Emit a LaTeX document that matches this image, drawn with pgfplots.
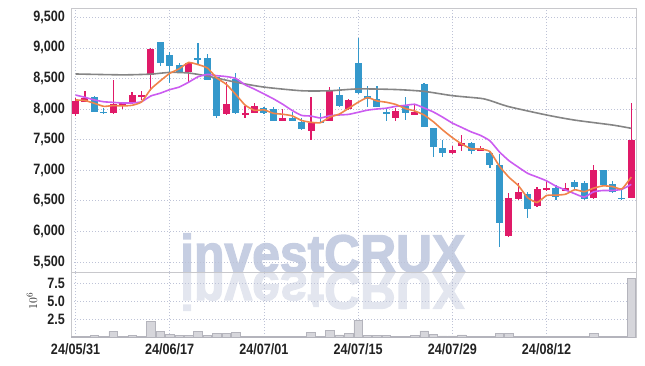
\documentclass[border=0pt]{standalone}
\usepackage{pgfplots}
\usepackage{pgfplotstable}
\pgfplotsset{compat=1.18}
\usepackage{fontspec}
\setmainfont{Liberation Sans}
\newfontfamily\tickfont{Liberation Sans Bold}[FakeStretch=0.84]
\newfontfamily\wmfont{Liberation Sans Bold}[FakeStretch=0.94, FakeBold=2.5]
\definecolor{upc}{HTML}{E01A68}
\definecolor{dnc}{HTML}{3498CB}
\definecolor{ma5c}{HTML}{F0844A}
\definecolor{ma10c}{HTML}{CB5CF0}
\definecolor{ma60c}{HTML}{858585}
\definecolor{gridc}{HTML}{BEC3D7}
\definecolor{axc}{HTML}{C8C8CC}
\definecolor{labc}{HTML}{222222}
\definecolor{volf}{HTML}{D6D6DB}
\definecolor{vold}{HTML}{B4B4BC}
\definecolor{wm}{HTML}{C6CEE2}
\definecolor{wmr}{HTML}{E3E6EF}

\pgfplotstableread{
x o h l c
0 7920 8180 7890 8130
1 8120 8290 8110 8180
4 7930 8480 7920 8090
5 8050 8110 8000 8100
6 8100 8280 8090 8230
7 8190 8300 8150 8230
8 8550 9000 8290 8990
12 8600 8760 8450 8750
16 7920 8450 7910 8090
18 7915 8050 7850 7940
19 7930 8100 7930 8050
22 7810 8000 7800 7850
25 7650 8190 7500 7780
27 7810 8360 7800 8310
29 8000 8160 7990 8150
34 7850 8010 7800 7970
36 7900 8090 7900 7960
40 7290 7400 7260 7330
41 7390 7580 7310 7440
43 7320 7400 7310 7360
46 5920 6630 5910 6540
47 6530 6800 6520 6640
49 6410 6720 6400 6690
50 6680 6840 6670 6710
52 6670 6790 6660 6710
55 6540 7090 6530 7000
59 6550 8100 6540 7500
}\up

\pgfplotstableread{
x o h l c
2 8200 8210 7950 7960
3 7960 8020 7920 7930
9 9090 9100 8700 8760
10 8880 8940 8420 8710
11 8720 8760 8590 8600
13 8835 9080 8720 8815
14 8840 8900 8470 8480
15 8520 8530 7850 7890
17 8500 8590 7920 7930
20 8010 8040 7920 7930
21 8000 8040 7800 7810
23 7860 7960 7800 7810
24 7790 7850 7660 7670
26 7795 7930 7770 7775
28 8230 8360 8030 8050
30 8760 9170 8250 8270
31 8210 8370 8030 8160
32 8160 8370 8030 8040
33 7955 8010 7810 7930
35 8050 8190 7830 7940
37 8410 8420 7700 7710
38 7690 7690 7210 7380
39 7360 7500 7220 7290
42 7440 7470 7270 7320
44 7290 7300 7030 7080
45 7090 7270 5750 6140
48 6610 6650 6220 6360
51 6710 6760 6510 6570
53 6810 6840 6680 6730
54 6790 6830 6520 6530
56 7000 7000 6750 6760
57 6770 6830 6630 6650
58 6555 6700 6520 6530
}\dn

\pgfplotstableread{
x v
0 0.10
1 0.05
2 0.20
3 0.05
4 0.75
5 0.05
6 0.20
7 0.10
8 2.20
9 0.80
10 0.40
11 0.25
12 0.25
13 0.75
14 0.25
15 0.45
16 0.50
17 0.70
18 0.10
19 0.05
20 0.05
21 0.05
22 0.05
23 0.05
24 0.10
25 0.60
26 0.10
27 0.90
28 0.30
29 0.50
30 2.35
31 0.25
32 0.25
33 0.20
34 0.10
35 0.05
36 0.25
37 0.85
38 0.40
39 0.15
40 0.15
41 0.30
42 0.10
43 0.05
44 0.10
45 0.45
46 0.45
47 0.10
48 0.10
49 0.10
50 0.05
51 0.05
52 0.05
53 0.10
54 0.10
55 0.45
56 0.10
57 0.10
58 0.05
59 8.20
}\vol

\pgfplotsset{
  base/.style={
    scale only axis, width=565bp,
    xmin=-0.48, xmax=59.5,
    axis line style={draw=axc, line width=1bp},
    grid=major,
    grid style={draw=gridc, dash pattern=on 1bp off 2bp, line width=0.8bp},
    major tick length=0pt,
    tick label style={font=\tickfont\fontsize{15bp}{17bp}\selectfont, text=labc},
    yticklabel style={anchor=east, inner sep=0pt, xshift=-6bp},
    xticklabel style={anchor=north, inner sep=0pt, yshift=-6bp},
    xtick={0,10,20,30,40,50},
  },
  wick/.style={draw=none, mark=none,
    error bars/.cd, y dir=both, y explicit, error mark=none,
    error bar style={draw=#1, solid, line width=1.2bp}},
  body/.style={draw=none, mark=none,
    error bars/.cd, y dir=both, y explicit, error mark=none,
    error bar style={draw=#1, solid, line width=7bp}},
}

\begin{document}
\begin{tikzpicture}
\useasboundingbox (0,0) rectangle (645bp,-366bp);
\node[anchor=base west, inner sep=0pt, text=wmr, yscale=-1, transform shape,
  font=\wmfont\fontsize{53bp}{53bp}\selectfont] at (180bp,-272bp) {investCRUX};
\node[anchor=base west, inner sep=0pt, text=wm,
  font=\wmfont\fontsize{53bp}{53bp}\selectfont] at (180bp,-272bp) {investCRUX};

\begin{axis}[base, at={(71bp,-9bp)}, anchor=north west, height=263bp,
  ymin=5338, ymax=9636,
  ytick={5500,6000,6500,7000,7500,8000,8500,9000,9500},
  yticklabels={{5,500},{6,000},{6,500},{7,000},{7,500},{8,000},{8,500},{9,000},{9,500}},
  xticklabels={}]
\addplot[wick=upc] table[x=x, y expr={(\thisrow{h}+\thisrow{l})/2}, y error expr={(\thisrow{h}-\thisrow{l})/2}] {\up};
\addplot[wick=dnc] table[x=x, y expr={(\thisrow{h}+\thisrow{l})/2}, y error expr={(\thisrow{h}-\thisrow{l})/2}] {\dn};
\addplot[body=upc] table[x=x, y expr={(\thisrow{o}+\thisrow{c})/2}, y error expr={abs(\thisrow{c}-\thisrow{o})/2}] {\up};
\addplot[body=dnc] table[x=x, y expr={(\thisrow{o}+\thisrow{c})/2}, y error expr={abs(\thisrow{c}-\thisrow{o})/2}] {\dn};
% 60-day line
\addplot[ma60c, line width=1.6bp, smooth, tension=0.4] coordinates {
(0,8574) (5,8560) (8,8572) (10,8600) (12,8590) (14,8540) (17,8440) (20,8360) (24,8300) (27,8300) (30,8330) (34,8320) (37,8290) (40,8220) (43,8176) (44,8140) (46,8040) (50,7904) (53,7820) (57,7740) (59,7686)};
% 10-day line
\addplot[ma10c, line width=1.6bp, smooth, tension=0.3] coordinates {
(0,8230) (1,8193) (2,8150) (3,8120) (4,8110) (5,8100) (6,8100) (7,8120) (8,8215) (9,8260)
(10,8318) (11,8360) (12,8439) (13,8528) (14,8567) (15,8546) (16,8532) (17,8502) (18,8397) (19,8326)
(20,8248) (21,8169) (22,8079) (23,7978) (24,7897) (25,7886) (26,7855) (27,7893) (28,7904) (29,7914)
(30,7948) (31,7983) (32,8002) (33,8015) (34,8045) (35,8061) (36,8079) (37,8019) (38,7952) (39,7866)
(40,7772) (41,7700) (42,7628) (43,7570) (44,7481) (45,7301) (46,7159) (47,7052) (48,6950) (49,6890)
(50,6828) (51,6741) (52,6680) (53,6617) (54,6562) (55,6648) (56,6670) (57,6671) (58,6689) (59,6770)};
% 5-day line
\addplot[ma5c, line width=1.6bp, smooth, tension=0.3] coordinates {
(0,8150) (1,8140) (2,8095) (3,8045) (4,8058) (5,8052) (6,8062) (7,8116) (8,8328) (9,8462)
(10,8584) (11,8658) (12,8762) (13,8728) (14,8672) (15,8508) (16,8406) (17,8242) (18,8066) (19,7980)
(20,7988) (21,7932) (22,7916) (23,7890) (24,7814) (25,7784) (26,7778) (27,7870) (28,7918) (29,8014)
(30,8112) (31,8188) (32,8134) (33,8112) (34,8076) (35,8010) (36,7970) (37,7904) (38,7792) (39,7656)
(40,7534) (41,7430) (42,7352) (43,7348) (44,7306) (45,7068) (46,6888) (47,6752) (48,6552) (49,6474)
(50,6588) (51,6594) (52,6608) (53,6682) (54,6650) (55,6708) (56,6746) (57,6734) (58,6696) (59,6890)};
\end{axis}

\begin{axis}[base, at={(71bp,-272bp)}, anchor=north west, height=65bp,
  ymin=0, ymax=9.1,
  ytick={2.5,5,7.5}, yticklabels={2.5,5.0,7.5},
  xticklabels={24/05/31,24/06/17,24/07/01,24/07/15,24/07/29,24/08/12}]
\addplot[ybar, bar width=0.9, bar shift=0pt, fill=volf, draw=vold, line width=0.6bp] table[x=x, y=v] {\vol};
\end{axis}
\node[rotate=90, inner sep=0pt, text=labc, font=\fontsize{13bp}{15bp}\selectfont] at (32bp,-301bp) {$10^{6}$};
\end{tikzpicture}
\end{document}
